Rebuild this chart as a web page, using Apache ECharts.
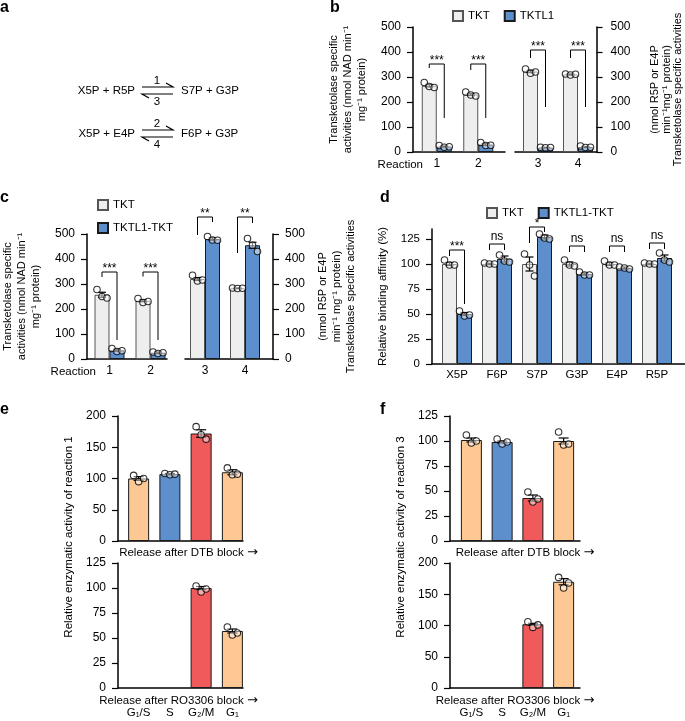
<!DOCTYPE html>
<html><head><meta charset="utf-8">
<script src="https://cdn.jsdelivr.net/npm/echarts@6/dist/echarts.min.js"></script>
<style>html,body{margin:0;padding:0;background:#fff}#c{width:685px;height:721px}</style>
</head><body><div id="c"></div>
<script>
const FONT = '"Liberation Sans", Arial, Helvetica, sans-serif';

// ---------- Panel b ----------
const bReactions = ['1', '2', '3', '4'];
const bTKT = [265, 230, 322, 310];
const bTKTerr = [5, 4, 5, 2];
const bTKTdots = [[278, 262, 258], [240, 228, 224], [332, 315, 320], [312, 308, 311]];
const bTKTL1 = [22, 30, 18, 20];
const bTKTL1err = [2, 4, 1, 2];
const bTKTL1dots = [[26, 19, 21], [38, 26, 27], [19, 17, 18], [24, 18, 19]];
const bSig = ['***', '***', '***', '***'];
const bBrTop = [352, 352, 408, 408];
const bBrLeft = [336, 328, 376, 376];
const bBrRight = [136, 136, 180, 180];

// ---------- Panel c ----------
const cReactions = ['1', '2', '3', '4'];
const cTKT = [257, 233, 320, 283];
const cTKTerr = [10, 4, 6, 1];
const cTKTdots = [[278, 250, 244], [242, 226, 230], [335, 312, 316], [284, 282, 283]];
const cMix = [35, 25, 480, 455];
const cMixErr = [4, 3, 5, 12];
const cMixDots = [[42, 30, 33], [28, 22, 25], [490, 476, 475], [482, 455, 430]];
const cSig = ['***', '***', '**', '**'];
const cBrTop = [348, 348, 568, 568];
const cBrLeft = [328, 330, 496, 424];
const cBrRight = [76, 76, 548, 544];

// ---------- Panel d ----------
const dSubs = ['X5P', 'F6P', 'S7P', 'G3P', 'E4P', 'R5P'];
const dTKT = [100, 100, 100, 100, 100, 100];
const dTKTerr = [1.5, 0.7, 7, 2, 1.5, 0.7];
const dTKTdots = [[104, 99, 99], [101, 100, 100], [110, 99, 88], [104, 99, 98], [103, 99, 99], [101, 100, 100]];
const dMix = [50, 105, 127, 90, 96, 106];
const dMixErr = [1.5, 3, 2, 1, 1, 3];
const dMixDots = [[53, 48, 49], [109, 103, 102], [130, 126, 125], [92, 89, 89], [97, 96, 95], [111, 104, 102]];
const dSig = ['***', 'ns', '*', 'ns', 'ns', 'ns'];
const dBrTop = [114, 120, 137, 118, 118, 121];
const dBrLeft = [108, 114, 121, 112, 112, 115];
const dBrRight = [60, 114, 132, 112, 112, 115];
const dTicks = [0, 25, 50, 75, 100, 125];

// ---------- Panels e / f ----------
const phases = ['G\u2081/S', 'S', 'G\u2082/M', 'G\u2081'];
const eTop = [100, 107, 172, 110];
const eTopErr = [3, 1, 6, 4];
const eTopDots = [[105, 95, 100], [108, 106, 107], [183, 170, 163], [117, 106, 107]];
const eBot = [null, null, 100, 57];
const eBotErr = [null, null, 1.5, 2];
const eBotDots = [[], [], [102, 96, 99], [61, 53, 55]];
const fTop = [101, 99, 43, 100];
const fTopErr = [2, 1, 3, 3];
const fTopDots = [[106, 98, 100], [102, 97, 99], [49, 39, 42], [109, 96, 97]];
const fBot = [null, null, 102, 170];
const fBotErr = [null, null, 1.5, 5];
const fBotDots = [[], [], [106, 97, 101], [177, 160, 168]];

// ---------- styles ----------
const GRAY = '#EEEEEE', GRAY_B = '#555555';
const BLUE = '#5E8FCD', DARK = '#1a1a1a';
const ORANGE = '#FEC894', RED = '#F05A5A';
const phaseColors = [ORANGE, BLUE, RED, ORANGE];
const JIT = [-5, 0, 5];

// data grids (category bands) and frame grids (axis lines) — same vertical extents
const dataGrids = [
  { left: 416, top: 27, width: 83, height: 125 },   // b1
  { left: 518, top: 27, width: 80, height: 125 },   // b2
  { left: 89, top: 234, width: 82, height: 125 },   // c1
  { left: 185, top: 234, width: 80, height: 125 },  // c2
  { left: 437, top: 229, width: 240, height: 135 }, // d
  { left: 123, top: 416, width: 125, height: 125 }, // e top
  { left: 123, top: 563, width: 125, height: 125 }, // e bottom
  { left: 456, top: 416, width: 123, height: 125 }, // f top
  { left: 456, top: 563, width: 123, height: 125 }  // f bottom
];
const frameGrids = [
  { left: 413, top: 27, width: 92, height: 125 },
  { left: 515, top: 27, width: 83, height: 125 },
  { left: 83, top: 234, width: 84, height: 125 },
  { left: 185, top: 234, width: 88, height: 125 },
  { left: 432, top: 229, width: 253, height: 135 },
  { left: 118, top: 416, width: 125, height: 125 },
  { left: 118, top: 563, width: 125, height: 125 },
  { left: 450, top: 416, width: 130, height: 125 },
  { left: 450, top: 563, width: 130, height: 125 }
];
const NF = dataGrids.length;
const yRanges = [[0, 500], [0, 500], [0, 500], [0, 500], [0, 135], [0, 200], [0, 125], [0, 125], [0, 200]];

const AX_LINE = { show: true, onZero: false, lineStyle: { color: '#000', width: 1.5 } };

function xData(gi, cats, o) {
  return Object.assign({
    type: 'category', gridIndex: gi, data: cats,
    axisTick: { show: false }, axisLine: { show: false },
    axisLabel: { color: '#000', fontSize: 12, fontFamily: FONT, margin: 6, interval: 0 }
  }, o);
}
function xFrame(gi) {
  return { type: 'value', gridIndex: NF + gi, min: 0, max: 1, axisLine: AX_LINE,
    axisTick: { show: false }, axisLabel: { show: false }, splitLine: { show: false } };
}
function yData(gi) {
  return { type: 'value', gridIndex: gi, min: yRanges[gi][0], max: yRanges[gi][1], show: false, splitLine: { show: false } };
}
function yFrame(gi, o) {
  return Object.assign({
    type: 'value', gridIndex: NF + gi, min: yRanges[gi][0], max: yRanges[gi][1], splitLine: { show: false },
    axisLine: AX_LINE,
    axisTick: { show: true, length: 6, lineStyle: { color: '#000', width: 1.2 } },
    axisLabel: { color: '#000', fontSize: 12, fontFamily: FONT, margin: 12 },
    nameMoveOverlap: false,
    nameTextStyle: { color: '#000', fontSize: 11, fontFamily: FONT, lineHeight: 14 }
  }, o);
}
function bar(gi, name, vals, color, border) {
  return {
    type: 'bar', name: name, xAxisIndex: gi, yAxisIndex: gi, data: vals,
    barWidth: 15, barGap: '0%', z: 2,
    itemStyle: { color: color, borderColor: border, borderWidth: 1 }
  };
}
function errBars(gi, means, errs, dx, cap) {
  return {
    type: 'custom', xAxisIndex: gi, yAxisIndex: gi, z: 5, clip: false, silent: true,
    data: means.map((m, i) => [i, m, errs[i]]).filter(d => d[1] != null),
    renderItem: function (params, api) {
      const c = api.value(0), m = api.value(1), e = api.value(2);
      const x = api.coord([c, 0])[0] + dx;
      const yt = api.coord([c, m + e])[1], yb = api.coord([c, m - e])[1];
      const st = { stroke: '#000', lineWidth: 1.2 };
      return { type: 'group', children: [
        { type: 'line', shape: { x1: x, y1: yt, x2: x, y2: yb }, style: st },
        { type: 'line', shape: { x1: x - cap, y1: yt, x2: x + cap, y2: yt }, style: st },
        { type: 'line', shape: { x1: x - cap, y1: yb, x2: x + cap, y2: yb }, style: st }
      ]};
    }
  };
}
function dots(gi, groups, dx) {
  const data = [];
  groups.forEach((arr, i) => arr.forEach((v, k) => data.push({ value: [i, v], symbolOffset: [dx + JIT[k], 0] })));
  return {
    type: 'scatter', xAxisIndex: gi, yAxisIndex: gi, symbol: 'circle', symbolSize: 6.5, z: 6, silent: true,
    itemStyle: { color: 'rgba(255,255,255,0.6)', borderColor: '#000', borderWidth: 1.1 },
    data: data
  };
}
function brackets(gi, tops, lefts, rights, labels, half) {
  return {
    type: 'custom', xAxisIndex: gi, yAxisIndex: gi, z: 7, clip: false, silent: true,
    data: tops.map((t, i) => [i, t, lefts[i], rights[i]]),
    renderItem: function (params, api) {
      const c = api.value(0);
      const cx = api.coord([c, 0])[0];
      const yT = api.coord([c, api.value(1)])[1];
      const yL = api.coord([c, api.value(2)])[1];
      const yR = api.coord([c, api.value(3)])[1];
      const xl = cx - half, xr = cx + half;
      const lab = labels[params.dataIndex];
      const isStar = lab.indexOf('*') >= 0;
      return { type: 'group', children: [
        { type: 'polyline', shape: { points: [[xl, yL], [xl, yT], [xr, yT], [xr, yR]] },
          style: { stroke: '#000', lineWidth: 1, fill: null } },
        { type: 'text', x: (xl + xr) / 2, y: isStar ? yT - 3 : yT - 1,
          style: { text: lab, fill: '#000', font: '12px ' + FONT,
            align: 'center', verticalAlign: isStar ? 'middle' : 'bottom',
            textAlign: 'center', textVerticalAlign: isStar ? 'middle' : 'bottom' } }
      ]};
    }
  };
}
function sl(a, s, e) { return a.slice(s, e); }

const relName = (txt, gap, pad) => ({
  name: txt + ' {ar|\u2192}', nameLocation: 'middle', nameGap: gap, nameMoveOverlap: false,
  nameTextStyle: { color: '#000', fontSize: 11.5, fontFamily: FONT, padding: pad,
    rich: { ar: { fontSize: 13, fontFamily: '"DejaVu Sans", sans-serif', color: '#000' } } }
});
const botLabel = { color: '#000', fontSize: 11.5, fontFamily: FONT, margin: 19, interval: 0 };

const xAxes = [
  xData(0, sl(bReactions, 0, 2)),
  xData(1, sl(bReactions, 2, 4)),
  xData(2, sl(cReactions, 0, 2)),
  xData(3, sl(cReactions, 2, 4)),
  xData(4, dSubs, { axisLabel: { color: '#000', fontSize: 11.5, fontFamily: FONT, margin: 5, interval: 0 } }),
  xData(5, phases, Object.assign({ axisLabel: { show: false } }, relName('Release after DTB block', 5, [0, 0, 0, 6]))),
  xData(6, phases, Object.assign({ axisLabel: botLabel }, relName('Release after RO3306 block', 6, [0, 14, 0, 0]))),
  xData(7, phases, Object.assign({ axisLabel: { show: false } }, relName('Release after DTB block', 5, [0, 0, 0, 15]))),
  xData(8, phases, Object.assign({ axisLabel: botLabel }, relName('Release after RO3306 block', 6, [0, 5, 0, 0])))
];
for (let i = 0; i < NF; i++) xAxes.push(xFrame(i));

const leftName = 'Transketolase specific\nactivities (nmol NAD min\u207B\u00B9\nmg\u207B\u00B9 protein)';
const yAxes = [];
for (let i = 0; i < NF; i++) yAxes.push(yData(i));
yAxes.push(
  yFrame(0, { interval: 100, name: leftName, nameLocation: 'middle', nameRotate: 90, nameGap: 44 }),
  yFrame(1, { interval: 100, position: 'right', axisLabel: { color: '#000', fontSize: 12, fontFamily: FONT, margin: 14 },
    name: '(nmol R5P or E4P\nmin\u207B\u00B9mg\u207B\u00B9 protein)\nTransketolase specific activities',
    nameLocation: 'middle', nameRotate: 90, nameGap: 53,
    nameTextStyle: { color: '#000', fontSize: 11, fontFamily: FONT, lineHeight: 11.5 } }),
  yFrame(2, { interval: 100, name: leftName, nameLocation: 'middle', nameRotate: 90, nameGap: 44 }),
  yFrame(3, { interval: 100, position: 'right',
    name: '(nmol R5P or E4P\nmin\u207B\u00B9 mg\u207B\u00B9 protein)\nTransketolase specific activities',
    nameLocation: 'middle', nameRotate: 90, nameGap: 43,
    nameTextStyle: { color: '#000', fontSize: 11, fontFamily: FONT, lineHeight: 14 } }),
  yFrame(4, { interval: 25,
    axisLabel: { color: '#000', fontSize: 11.5, fontFamily: FONT, margin: 12, customValues: dTicks,
      formatter: v => (v % 25 === 0 ? String(v) : '') },
    axisTick: { show: true, length: 6, lineStyle: { color: '#000', width: 1.2 }, customValues: dTicks },
    name: 'Relative binding affinity (%)', nameLocation: 'middle', nameRotate: 90, nameGap: 43,
    nameTextStyle: { color: '#000', fontSize: 11.5, fontFamily: FONT } }),
  yFrame(5, { interval: 50 }),
  yFrame(6, { interval: 25 }),
  yFrame(7, { interval: 25 }),
  yFrame(8, { interval: 50 })
);

const series = [];
// b
[[0, 0, 2], [1, 2, 4]].forEach(([g, s, e]) => {
  series.push(bar(g, 'TKT', sl(bTKT, s, e), GRAY, GRAY_B));
  series.push(bar(g, 'TKTL1', sl(bTKTL1, s, e), BLUE, DARK));
  series.push(errBars(g, sl(bTKT, s, e), sl(bTKTerr, s, e), -7.5, 4));
  series.push(errBars(g, sl(bTKTL1, s, e), sl(bTKTL1err, s, e), 7.5, 4));
  series.push(dots(g, sl(bTKTdots, s, e), -7.5));
  series.push(dots(g, sl(bTKTL1dots, s, e), 7.5));
  series.push(brackets(g, sl(bBrTop, s, e), sl(bBrLeft, s, e), sl(bBrRight, s, e), sl(bSig, s, e), 7.5));
});
// c
[[2, 0, 2], [3, 2, 4]].forEach(([g, s, e]) => {
  series.push(bar(g, 'TKT', sl(cTKT, s, e), GRAY, GRAY_B));
  series.push(bar(g, 'TKTL1-TKT', sl(cMix, s, e), BLUE, DARK));
  series.push(errBars(g, sl(cTKT, s, e), sl(cTKTerr, s, e), -7.5, 4));
  series.push(errBars(g, sl(cMix, s, e), sl(cMixErr, s, e), 7.5, 4));
  series.push(dots(g, sl(cTKTdots, s, e), -7.5));
  series.push(dots(g, sl(cMixDots, s, e), 7.5));
  series.push(brackets(g, sl(cBrTop, s, e), sl(cBrLeft, s, e), sl(cBrRight, s, e), sl(cSig, s, e), 7.5));
});
// d
series.push(bar(4, 'TKT', dTKT, GRAY, GRAY_B));
series.push(bar(4, 'TKTL1-TKT', dMix, BLUE, DARK));
series.push(errBars(4, dTKT, dTKTerr, -7.5, 4));
series.push(errBars(4, dMix, dMixErr, 7.5, 4));
series.push(dots(4, dTKTdots, -7.5));
series.push(dots(4, dMixDots, 7.5));
series.push(brackets(4, dBrTop, dBrLeft, dBrRight, dSig, 7.5));
// e, f
[[5, eTop, eTopErr, eTopDots], [6, eBot, eBotErr, eBotDots], [7, fTop, fTopErr, fTopDots], [8, fBot, fBotErr, fBotDots]].forEach(([g, v, er, dt]) => {
  series.push({
    type: 'bar', xAxisIndex: g, yAxisIndex: g, barWidth: 21, z: 2,
    data: v.map((val, i) => ({ value: val == null ? '-' : val, itemStyle: { color: phaseColors[i], borderColor: DARK, borderWidth: 1 } }))
  });
  series.push(errBars(g, v, er, 0, 5));
  series.push(dots(g, dt, 0));
});

const legendText = { fontSize: 11.5, fontFamily: FONT, color: '#000' };
const legends = [
  { left: 452, top: 10, padding: 0, itemWidth: 10, itemHeight: 10, itemGap: 14, itemTextGap: 7, icon: 'rect', selectedMode: false, data: ['TKT', 'TKTL1'], textStyle: legendText },
  { left: 97, top: 199, padding: 0, orient: 'vertical', itemWidth: 10, itemHeight: 10, itemGap: 11, itemTextGap: 8, icon: 'rect', selectedMode: false, data: ['TKT', 'TKTL1-TKT'], textStyle: legendText },
  { left: 486, top: 207, padding: 0, itemWidth: 10, itemHeight: 10, itemGap: 14, itemTextGap: 7, icon: 'rect', selectedMode: false, data: ['TKT', 'TKTL1-TKT'], textStyle: legendText }
];

// ---------- annotations (text / scheme) ----------
function txt(x, y, s, font, align, vAlign, rot) {
  return { type: 'text', x: x, y: y, rotation: rot || 0,
    style: { text: s, font: font, fill: '#000', align: align, verticalAlign: vAlign, textAlign: align, textVerticalAlign: vAlign } };
}
function line(pts) {
  return { type: 'polyline', shape: { points: pts }, style: { stroke: '#000', lineWidth: 1.2, fill: null } };
}
const F12 = '11.5px ' + FONT;
const LET = 'bold 16px ' + FONT;
const schemeRows = [
  { lhs: 'X5P + R5P', rhs: 'S7P + G3P', fwd: '1', rev: '3' },
  { lhs: 'X5P + E4P', rhs: 'F6P + G3P', fwd: '2', rev: '4' }
];
const graphic = [
  txt(0, 0, 'a', LET, 'left', 'top'),
  txt(330, 0, 'b', LET, 'left', 'top'),
  txt(0, 190, 'c', LET, 'left', 'top'),
  txt(380, 190, 'd', LET, 'left', 'top'),
  txt(0, 402, 'e', LET, 'left', 'top'),
  txt(380, 402, 'f', LET, 'left', 'top'),
  txt(423, 165, 'Reaction', '11.5px ' + FONT, 'right', 'middle'),
  txt(96, 372, 'Reaction', '11.5px ' + FONT, 'right', 'middle'),
  txt(69, 537, 'Relative enzymatic activity of reaction 1', '11.5px ' + FONT, 'center', 'middle', Math.PI / 2),
  txt(401, 537, 'Relative enzymatic activity of reaction 3', '11.5px ' + FONT, 'center', 'middle', Math.PI / 2)
];
schemeRows.forEach((r, k) => {
  const y = k === 0 ? 91 : 134;
  graphic.push(txt(135, y, r.lhs, F12, 'right', 'middle'));
  graphic.push(txt(181, y, r.rhs, F12, 'left', 'middle'));
  graphic.push(txt(157, y - 10, r.fwd, F12, 'center', 'middle'));
  graphic.push(txt(157, y + 11, r.rev, F12, 'center', 'middle'));
  graphic.push(line([[142, y - 4], [173, y - 4], [166, y - 8]]));
  graphic.push(line([[173, y + 3], [142, y + 3], [149, y + 7]]));
});

const chart = echarts.init(document.getElementById('c'), null, { renderer: 'canvas' });
chart.setOption({
  animation: false,
  backgroundColor: '#fff',
  textStyle: { fontFamily: FONT },
  grid: dataGrids.concat(frameGrids),
  xAxis: xAxes,
  yAxis: yAxes,
  legend: legends,
  series: series,
  graphic: graphic
});
</script></body></html>
